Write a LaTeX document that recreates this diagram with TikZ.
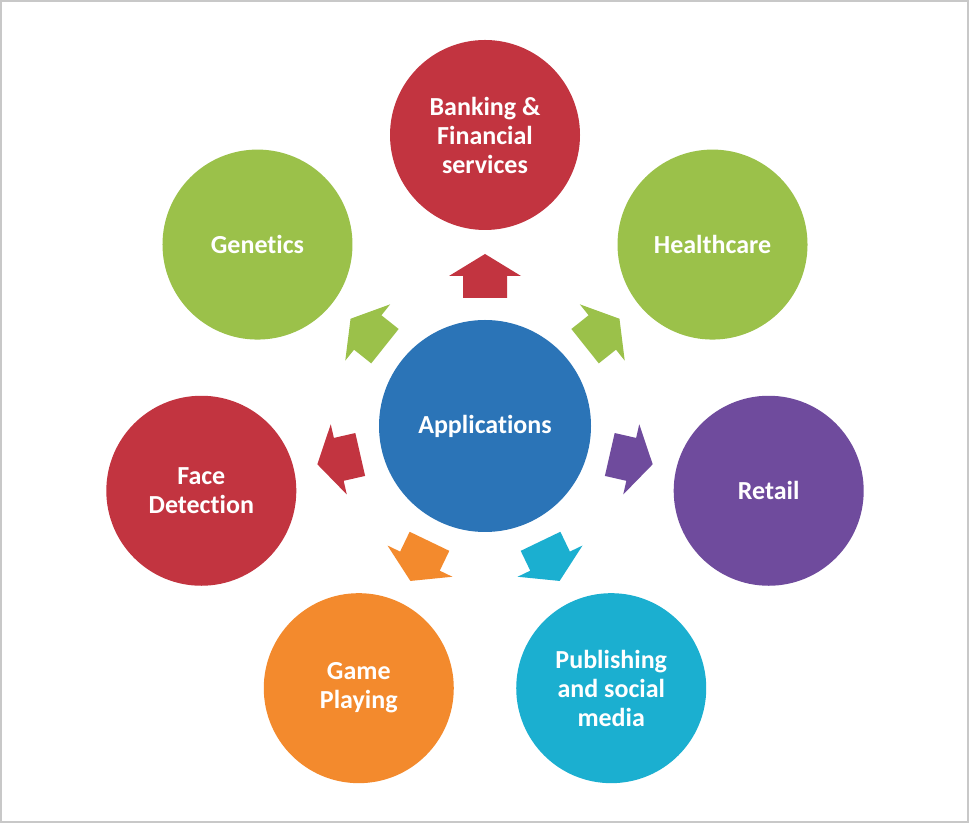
\documentclass[tikz,border=0pt]{standalone}
\usepackage{fontspec}
\setmainfont{Carlito}[RawFeature={-liga;-clig;-dlig;-calt}]
\usetikzlibrary{calc}
\definecolor{cred}{HTML}{C23440}
\definecolor{cgreen}{HTML}{9BC14A}
\definecolor{cblue}{HTML}{2B74B7}
\definecolor{cpurple}{HTML}{6F4B9D}
\definecolor{corange}{HTML}{F38A2D}
\definecolor{ccyan}{HTML}{1BAFD0}
\definecolor{framegray}{HTML}{C8C8C8}
\newcommand\blkarrow[2]{%
  \fill[#2, shift={(app.center)}, rotate=#1]
    (128,-22) -- (150,-22) -- (150,-36) -- (172,0) -- (150,36) -- (150,22) -- (128,22) -- cycle;}
\begin{document}
\begin{tikzpicture}[x=0.75pt,y=0.75pt,
  bubble/.style={circle, minimum size=142.5pt, inner sep=0pt, text=white,
    font=\fontsize{19.5}{21.75}\selectfont\bfseries, align=center},
  hub/.style={bubble, minimum size=159pt}]
\useasboundingbox (0,0) rectangle (969,823);
\fill[white] (0,0) rectangle (969,823);
\draw[framegray, line width=1.5pt] (1,1) rectangle (968,822);
\node[hub, fill=cblue] (app) at (485,397) {Applications};
\node[bubble, fill=cred]    (bank)   at ($(app.center)+(90:291)$)     {Banking \&\\Financial\\services};
\node[bubble, fill=cgreen]  (gen)    at ($(app.center)+(141.43:291)$) {Genetics};
\node[bubble, fill=cgreen]  (health) at ($(app.center)+(38.57:291)$)  {Healthcare};
\node[bubble, fill=cred]    (face)   at ($(app.center)+(192.86:291)$) {Face\\Detection};
\node[bubble, fill=cpurple] (retail) at ($(app.center)+(-12.86:291)$) {Retail};
\node[bubble, fill=corange] (game)   at ($(app.center)+(244.29:291)$) {Game\\Playing};
\node[bubble, fill=ccyan]   (pub)    at ($(app.center)+(-64.29:291)$) {Publishing\\and social\\media};
\blkarrow{90}{cred}
\blkarrow{141.43}{cgreen}
\blkarrow{38.57}{cgreen}
\blkarrow{192.86}{cred}
\blkarrow{-12.86}{cpurple}
\blkarrow{244.29}{corange}
\blkarrow{-64.29}{ccyan}
\end{tikzpicture}
\end{document}
